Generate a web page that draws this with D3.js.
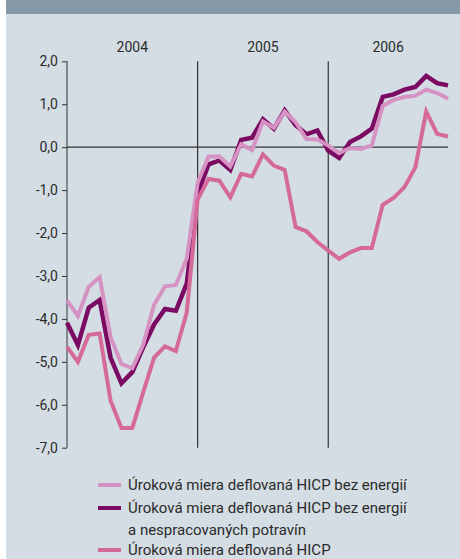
<!DOCTYPE html>
<html>
<head>
<meta charset="utf-8">
<script src="https://cdn.jsdelivr.net/npm/d3@7"></script>
<style>
  body { margin: 0; background: #fff; }
  svg { display: block; }
  text { font-family: Roboto, "Liberation Sans", sans-serif; fill: #2b2b2b; }
</style>
</head>
<body>
<div id="chart"></div>
<script>
// monthly data, Jan 2004 - Dec 2006
const years = ["2004", "2005", "2006"];
const yTicks = [2, 1, 0, -1, -2, -3, -4, -5, -6, -7];

const bezEnergii = [-3.57, -3.93, -3.25, -3.03, -4.42, -5.05, -5.15, -4.6, -3.67, -3.24, -3.21, -2.6,
  -0.83, -0.22, -0.22, -0.45, 0.07, -0.07, 0.6, 0.45, 0.83, 0.58, 0.19, 0.18,
  0.04, -0.14, -0.02, -0.04, 0.04, 0.96, 1.1, 1.17, 1.2, 1.34, 1.26, 1.13];
const bezEnergiiPotravin = [-4.09, -4.61, -3.74, -3.56, -4.9, -5.5, -5.24, -4.66, -4.13, -3.77, -3.81, -3.18,
  -1.08, -0.4, -0.31, -0.53, 0.17, 0.22, 0.65, 0.43, 0.86, 0.51, 0.3, 0.39,
  -0.08, -0.25, 0.12, 0.25, 0.43, 1.17, 1.23, 1.34, 1.4, 1.66, 1.49, 1.44];
const hicp = [-4.65, -5.0, -4.37, -4.34, -5.9, -6.54, -6.54, -5.71, -4.9, -4.64, -4.75, -3.85,
  -1.22, -0.74, -0.78, -1.17, -0.62, -0.68, -0.17, -0.43, -0.53, -1.86, -1.96, -2.21,
  -2.41, -2.6, -2.45, -2.35, -2.35, -1.34, -1.18, -0.93, -0.47, 0.83, 0.31, 0.25];

const seriesNames = [
  ["Úroková miera deflovaná HICP bez energií"],
  ["Úroková miera deflovaná HICP bez energií", "a nespracovaných potravín"],
  ["Úroková miera deflovaná HICP"]
];
const colors = ["#d592c3", "#7b0a62", "#d56a9a"];

const width = 460, height = 559;
const svg = d3.select("#chart").append("svg")
  .attr("width", width)
  .attr("height", height);

// background panels
svg.append("rect").attr("x", 6).attr("y", 0).attr("width", width - 6).attr("height", height).attr("fill", "#d3dde3");
svg.append("rect").attr("x", 6).attr("y", 0).attr("width", width - 6).attr("height", 14).attr("fill", "#8599a7");

const n = hicp.length;
const x = d3.scaleLinear().domain([0, n - 1]).range([67, 448]);
const y = d3.scaleLinear().domain([-7, 2]).range([447.7, 61.3]);

// y axis
const yAxis = svg.append("g")
  .attr("transform", "translate(67,0)")
  .call(d3.axisLeft(y).tickValues(yTicks).tickSize(5).tickPadding(4)
    .tickFormat(d => d3.format(".1f")(d).replace(".", ",").replace("−", "-")));
yAxis.select(".domain").attr("stroke", "#333").attr("d", `M0,${y(2)}V${y(-7)}`);
yAxis.selectAll(".tick line").attr("stroke", "#333");
yAxis.selectAll(".tick text").style("font-size", "14px").attr("fill", "#2b2b2b");

// zero line and year separators
svg.append("line")
  .attr("x1", x(0)).attr("x2", x(n - 1))
  .attr("y1", y(0)).attr("y2", y(0))
  .attr("stroke", "#333").attr("stroke-width", 1.2);

svg.selectAll(".sep")
  .data([12, 24])
  .enter().append("line")
  .attr("x1", d => x(d)).attr("x2", d => x(d))
  .attr("y1", y(2)).attr("y2", y(-7))
  .attr("stroke", "#333").attr("stroke-width", 1.2);

svg.selectAll(".year")
  .data(years)
  .enter().append("text")
  .attr("x", (d, i) => x((i * 12 + Math.min(i * 12 + 12, n - 1)) / 2))
  .attr("y", 52)
  .attr("text-anchor", "middle")
  .style("font-size", "14px")
  .text(d => d);

const line = d3.line()
  .x((d, i) => x(i))
  .y(d => y(d))
  .curve(d3.curveLinear);

// drawing order: dark, light, medium on top
[[bezEnergiiPotravin, colors[1], 4.5], [bezEnergii, colors[0], 4], [hicp, colors[2], 4]].forEach(([data, c, w]) => {
  svg.append("path")
    .datum(data)
    .attr("d", line)
    .attr("fill", "none")
    .attr("stroke", c)
    .attr("stroke-width", w)
    .attr("stroke-linejoin", "miter");
});

// legend
const legendRows = [485, 508, 550];
const legend = svg.append("g");
seriesNames.forEach((lines, i) => {
  const ly = legendRows[i];
  legend.append("line")
    .attr("x1", 98).attr("x2", 121)
    .attr("y1", ly).attr("y2", ly)
    .attr("stroke", colors[i]).attr("stroke-width", 4);
  lines.forEach((t, j) => {
    legend.append("text")
      .attr("x", 128)
      .attr("y", ly + j * 22)
      .attr("dy", "0.35em")
      .style("font-size", "15px")
      .text(t);
  });
});
</script>
</body>
</html>
